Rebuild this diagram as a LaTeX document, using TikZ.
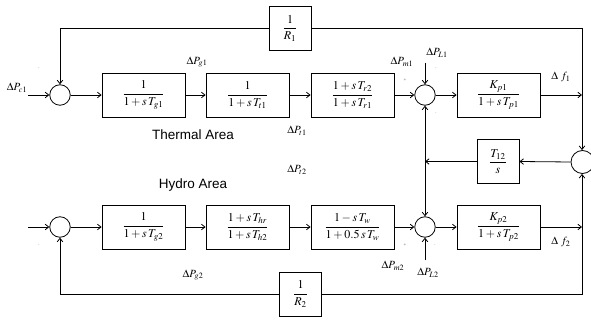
\documentclass[tikz,border=0pt]{standalone}
\usepackage{mathptmx}
\usepackage[no-math]{fontspec}
\setmainfont{Liberation Serif}
\newfontfamily\areafont{Liberation Sans}
\usetikzlibrary{arrows.meta}
\newcommand{\blkfrac}[2]{$\displaystyle\frac{#1}{#2}$}
\begin{document}
\begin{tikzpicture}[x=1pt,y=-1pt,
  line width=0.8pt,
  blk/.style={draw, minimum width=83pt, minimum height=44pt, inner sep=0pt, font=\fontsize{12}{14}\selectfont},
  sblk/.style={draw, minimum width=42pt, minimum height=44pt, inner sep=0pt, font=\fontsize{12}{14}\selectfont},
  sumc/.style={draw, circle, minimum size=20.5pt, inner sep=0pt},
  bigc/.style={draw, circle, minimum size=23pt, inner sep=0pt},
  arr/.style={-{Straight Barb[length=3.5pt,width=5.5pt]}},
  lab/.style={inner sep=0pt, font=\fontsize{11}{13}\selectfont},
  sgn/.style={inner sep=0pt, font=\fontsize{5}{5}\selectfont, text=black!60},
  area/.style={inner sep=0pt, font=\areafont\fontsize{13.5}{15}\selectfont}]
\useasboundingbox (0,0) rectangle (591,320);
% top row
\node[sumc] (c1) at (60,95) {};
\node[blk] (g1) at (143.5,95) {\blkfrac{1}{1+s\,T_{g1}}};
\node[blk] (t1) at (247.5,95) {\blkfrac{1}{1+s\,T_{t1}}};
\node[blk] (r1) at (352.5,95) {\blkfrac{1+s\,T_{r2}}{1+s\,T_{r1}}};
\node[sumc] (s1) at (425,95) {};
\node[blk] (p1) at (498.5,95) {\blkfrac{K_{p1}}{1+s\,T_{p1}}};
\node[sblk] (R1) at (290,28.5) {\blkfrac{1}{R_1}};
% middle
\node[bigc] (cR) at (582.5,162) {};
\node[sblk] (T12) at (498,161.5) {\blkfrac{T_{12}}{s}};
\coordinate (jn) at (425,161.5);
% bottom row
\node[sumc] (c2) at (60,227) {};
\node[blk] (g2) at (143.5,227) {\blkfrac{1}{1+s\,T_{g2}}};
\node[blk] (h2) at (247.5,227) {\blkfrac{1+s\,T_{hr}}{1+s\,T_{h2}}};
\node[blk] (w2) at (352.5,227) {\blkfrac{1-s\,T_{w}}{1+0.5\,s\,T_{w}}};
\node[sumc] (s2) at (425,227) {};
\node[blk] (p2) at (498.5,227) {\blkfrac{K_{p2}}{1+s\,T_{p2}}};
\node[sblk] (R2) at (300.5,294) {\blkfrac{1}{R_2}};
% coordinates
\coordinate (in1) at (28,95);
\coordinate (in2) at (28,227);
\coordinate (o1) at (582,95);
\coordinate (o2) at (582,227);
\coordinate (L1) at (425,63);
\coordinate (L2) at (425,260);
% connectors top
\draw[arr] (in1) -- (c1.west);
\draw[arr] (c1.east) -- (g1.west);
\draw[arr] (g1) -- (t1);
\draw[arr] (t1) -- (r1);
\draw[arr] (r1) -- (s1);
\draw[arr] (s1) -- (p1);
\draw[arr] (p1.east) -- (o1);
\draw[arr] (L1) -- (s1.north);
\draw[arr] (R1.west) -| (c1.north);
\draw[arr] (R1.east) -| (cR.north -| o1);
% middle
\draw[arr] (cR.west) -- (T12.east);
\draw[arr] (T12.west) -- (jn);
\draw[arr] (jn) -- (s1.south);
\draw[arr] (jn) -- (s2.north);
% connectors bottom
\draw[arr] (in2) -- (c2.west);
\draw[arr] (c2.east) -- (g2.west);
\draw[arr] (g2) -- (h2);
\draw[arr] (h2) -- (w2);
\draw[arr] (w2) -- (s2);
\draw[arr] (s2) -- (p2);
\draw[arr] (p2.east) -- (o2);
\draw[arr] (L2) -- (s2.south);
\draw[arr] (R2.west) -| (c2.south);
\draw[arr] (R2.east) -| (cR.south -| o2);
% labels
\node[lab] (lc1) at (17,88) {$\Delta P_{c1}$};
\node[lab] (lg1) at (197,62) {$\Delta P_{g1}$};
\node[lab] (lt1) at (297,131) {$\Delta P_{t1}$};
\node[lab] (lm1) at (402,62) {$\Delta P_{m1}$};
\node[lab] (lL1) at (437,53) {$\Delta P_{L1}$};
\node[lab] (lf1) at (561,77) {$\Delta\ f_1$};
\node[lab] (lt2) at (297,170) {$\Delta P_{t2}$};
\node[lab] (lg2) at (193,275) {$\Delta P_{g2}$};
\node[lab] (lm2) at (393,266) {$\Delta P_{m2}$};
\node[lab] (lL2) at (428,273) {$\Delta P_{L2}$};
\node[lab] (lf2) at (561,242) {$\Delta\ f_2$};
\node[area] (ta) at (193,135) {Thermal Area};
\node[area] (ha) at (193,185) {Hydro Area};
% sign marks
\node[sgn] (p1s) at (405,80) {+};
\node[sgn] (m1a) at (436,68) {.};
\node[sgn] (m1b) at (436,113) {.};
\node[sgn] (p2s) at (405,245) {+};
\node[sgn] (m2a) at (435,245) {.};
\node[sgn] (m0a) at (39,68) {.};
\node[sgn] (m0b) at (39,245) {.};
\end{tikzpicture}
\end{document}
